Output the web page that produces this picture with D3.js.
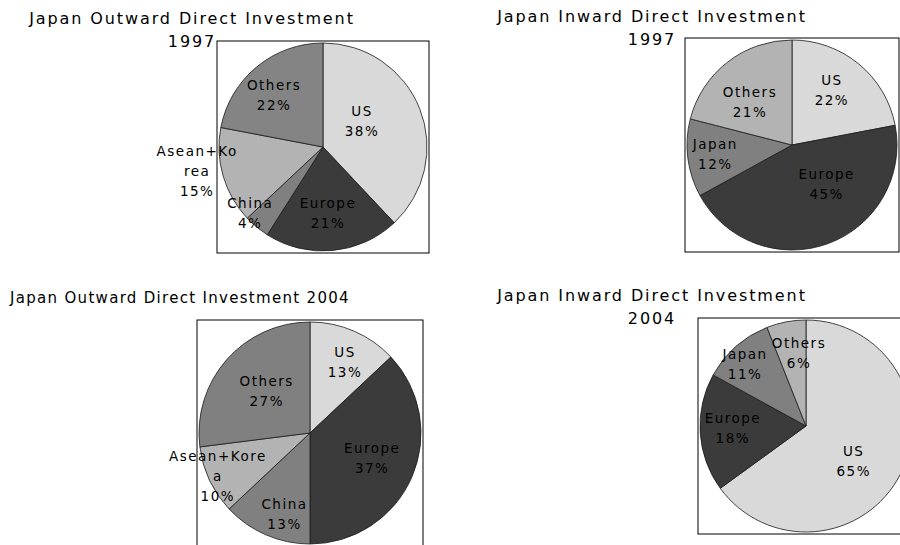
<!DOCTYPE html>
<html>
<head>
<meta charset="utf-8">
<script src="https://cdn.jsdelivr.net/npm/d3@7"></script>
<style>
  body { margin: 0; background: #fff; }
  text { font-family: "DejaVu Sans", sans-serif; fill: #000; }
</style>
</head>
<body>
<div id="chart"></div>
<script>
// Chart data
var out1997Cats = ["US", "Europe", "China", "Asean+Korea", "Others"];
var out1997Vals = [38, 21, 4, 15, 22];

var in1997Cats = ["US", "Europe", "Japan", "Others"];
var in1997Vals = [22, 45, 12, 21];

var out2004Cats = ["US", "Europe", "China", "Asean+Korea", "Others"];
var out2004Vals = [13, 37, 13, 10, 27];

var in2004Cats = ["US", "Europe", "Japan", "Others"];
var in2004Vals = [65, 18, 11, 6];

// Grey shades used by the spreadsheet
var shade = {
  "US": "#d9d9d9",
  "Europe": "#3b3b3b",
  "China": "#808080",
  "Japan": "#808080",
  "Asean+Korea": "#b3b3b3",
  "Others": "#808080"
};

var w = 900;
var h = 545;

var svg = d3.select("#chart")
  .append("svg")
  .attr("width", w)
  .attr("height", h);

// layout for each pie: centre, radius, title lines and where the labels sit
// (label spots are given as fractions of the radius from the centre)
var charts = [
  {
    cats: out1997Cats, vals: out1997Vals,
    cx: 323, cy: 147, r: 104, wrap: 8,
    othersShade: "#848484",
    title: ["Japan Outward Direct Investment", "1997"],
    titleX: 192, titleY: 24, titleSize: 16, titleSpacing: 1.9,
    spots: [[0.375, -0.245], [0.048, 0.64], [-0.70, 0.64], [-1.21, 0.23], [-0.47, -0.495]]
  },
  {
    cats: in1997Cats, vals: in1997Vals,
    cx: 792, cy: 145, r: 105, wrap: 10,
    othersShade: "#b3b3b3",
    title: ["Japan Inward Direct Investment", "1997"],
    titleX: 652, titleY: 22, titleSize: 16, titleSpacing: 1.9,
    spots: [[0.38, -0.52], [0.33, 0.37], [-0.73, 0.09], [-0.40, -0.41]]
  },
  {
    cats: out2004Cats, vals: out2004Vals,
    cx: 310, cy: 433, r: 111, wrap: 10,
    othersShade: "#808080",
    title: ["Japan Outward Direct Investment 2004"],
    titleX: 180, titleY: 303, titleSize: 15, titleSpacing: 1.3,
    spots: [[0.315, -0.635], [0.56, 0.23], [-0.23, 0.73], [-0.83, 0.39], [-0.39, -0.38]]
  },
  {
    cats: in2004Cats, vals: in2004Vals,
    cx: 806, cy: 426, r: 106, wrap: 10,
    othersShade: "#b3b3b3",
    title: ["Japan Inward Direct Investment", "2004"],
    titleX: 652, titleY: 301, titleSize: 16, titleSpacing: 1.9,
    spots: [[0.45, 0.33], [-0.69, 0.02], [-0.575, -0.585], [-0.066, -0.69]]
  }
];

var pie = d3.pie()
  .sort(null)
  .value(function(d) { return d.value; });

// break a name into pieces of at most n characters, like the Excel labels
function wrapName(name, n) {
  var out = [];
  for (var i = 0; i < name.length; i += n) {
    out.push(name.slice(i, i + n));
  }
  return out;
}

charts.forEach(function(c) {
  var data = c.cats.map(function(name, i) {
    return { name: name, value: c.vals[i] };
  });
  var total = d3.sum(c.vals);

  var g = svg.append("g");

  // title lines, centred
  g.selectAll("text.title")
    .data(c.title)
    .enter()
    .append("text")
    .attr("class", "title")
    .attr("x", c.titleX)
    .attr("y", function(d, i) { return c.titleY + i * 23; })
    .attr("text-anchor", "middle")
    .style("font-size", c.titleSize + "px")
    .style("letter-spacing", c.titleSpacing + "px")
    .text(function(d) { return d; });

  // plot area frame
  var pad = 2;
  g.append("rect")
    .attr("x", c.cx - c.r - pad)
    .attr("y", c.cy - c.r - pad)
    .attr("width", 2 * (c.r + pad))
    .attr("height", 2 * (c.r + pad))
    .attr("fill", "none")
    .attr("stroke", "#000")
    .attr("stroke-width", 1);

  var arc = d3.arc()
    .innerRadius(0)
    .outerRadius(c.r);

  var pg = g.append("g")
    .attr("transform", "translate(" + c.cx + "," + c.cy + ")");

  pg.selectAll("path")
    .data(pie(data))
    .enter()
    .append("path")
    .attr("d", arc)
    .style("fill", function(d) {
      return d.data.name == "Others" ? c.othersShade : shade[d.data.name];
    })
    .style("stroke", "#1a1a1a")
    .style("stroke-width", 0.8);

  // labels: name (wrapped) and share
  var lab = pg.selectAll("g.lab")
    .data(data)
    .enter()
    .append("g")
    .attr("class", "lab")
    .attr("transform", function(d, i) {
      return "translate(" + (c.spots[i][0] * c.r) + "," + (c.spots[i][1] * c.r) + ")";
    });

  lab.each(function(d) {
    var lines = wrapName(d.name, c.wrap);
    lines.push(Math.round(d.value / total * 100) + "%");
    var lh = 20;
    var top = -(lines.length - 1) * lh / 2;
    d3.select(this).selectAll("text")
      .data(lines)
      .enter()
      .append("text")
      .attr("x", 0)
      .attr("y", function(t, j) { return top + j * lh; })
      .attr("dy", "0.35em")
      .attr("text-anchor", "middle")
      .style("font-size", "13.5px")
      .style("letter-spacing", "1.5px")
      .text(function(t) { return t; });
  });
});
</script>
</body>
</html>
